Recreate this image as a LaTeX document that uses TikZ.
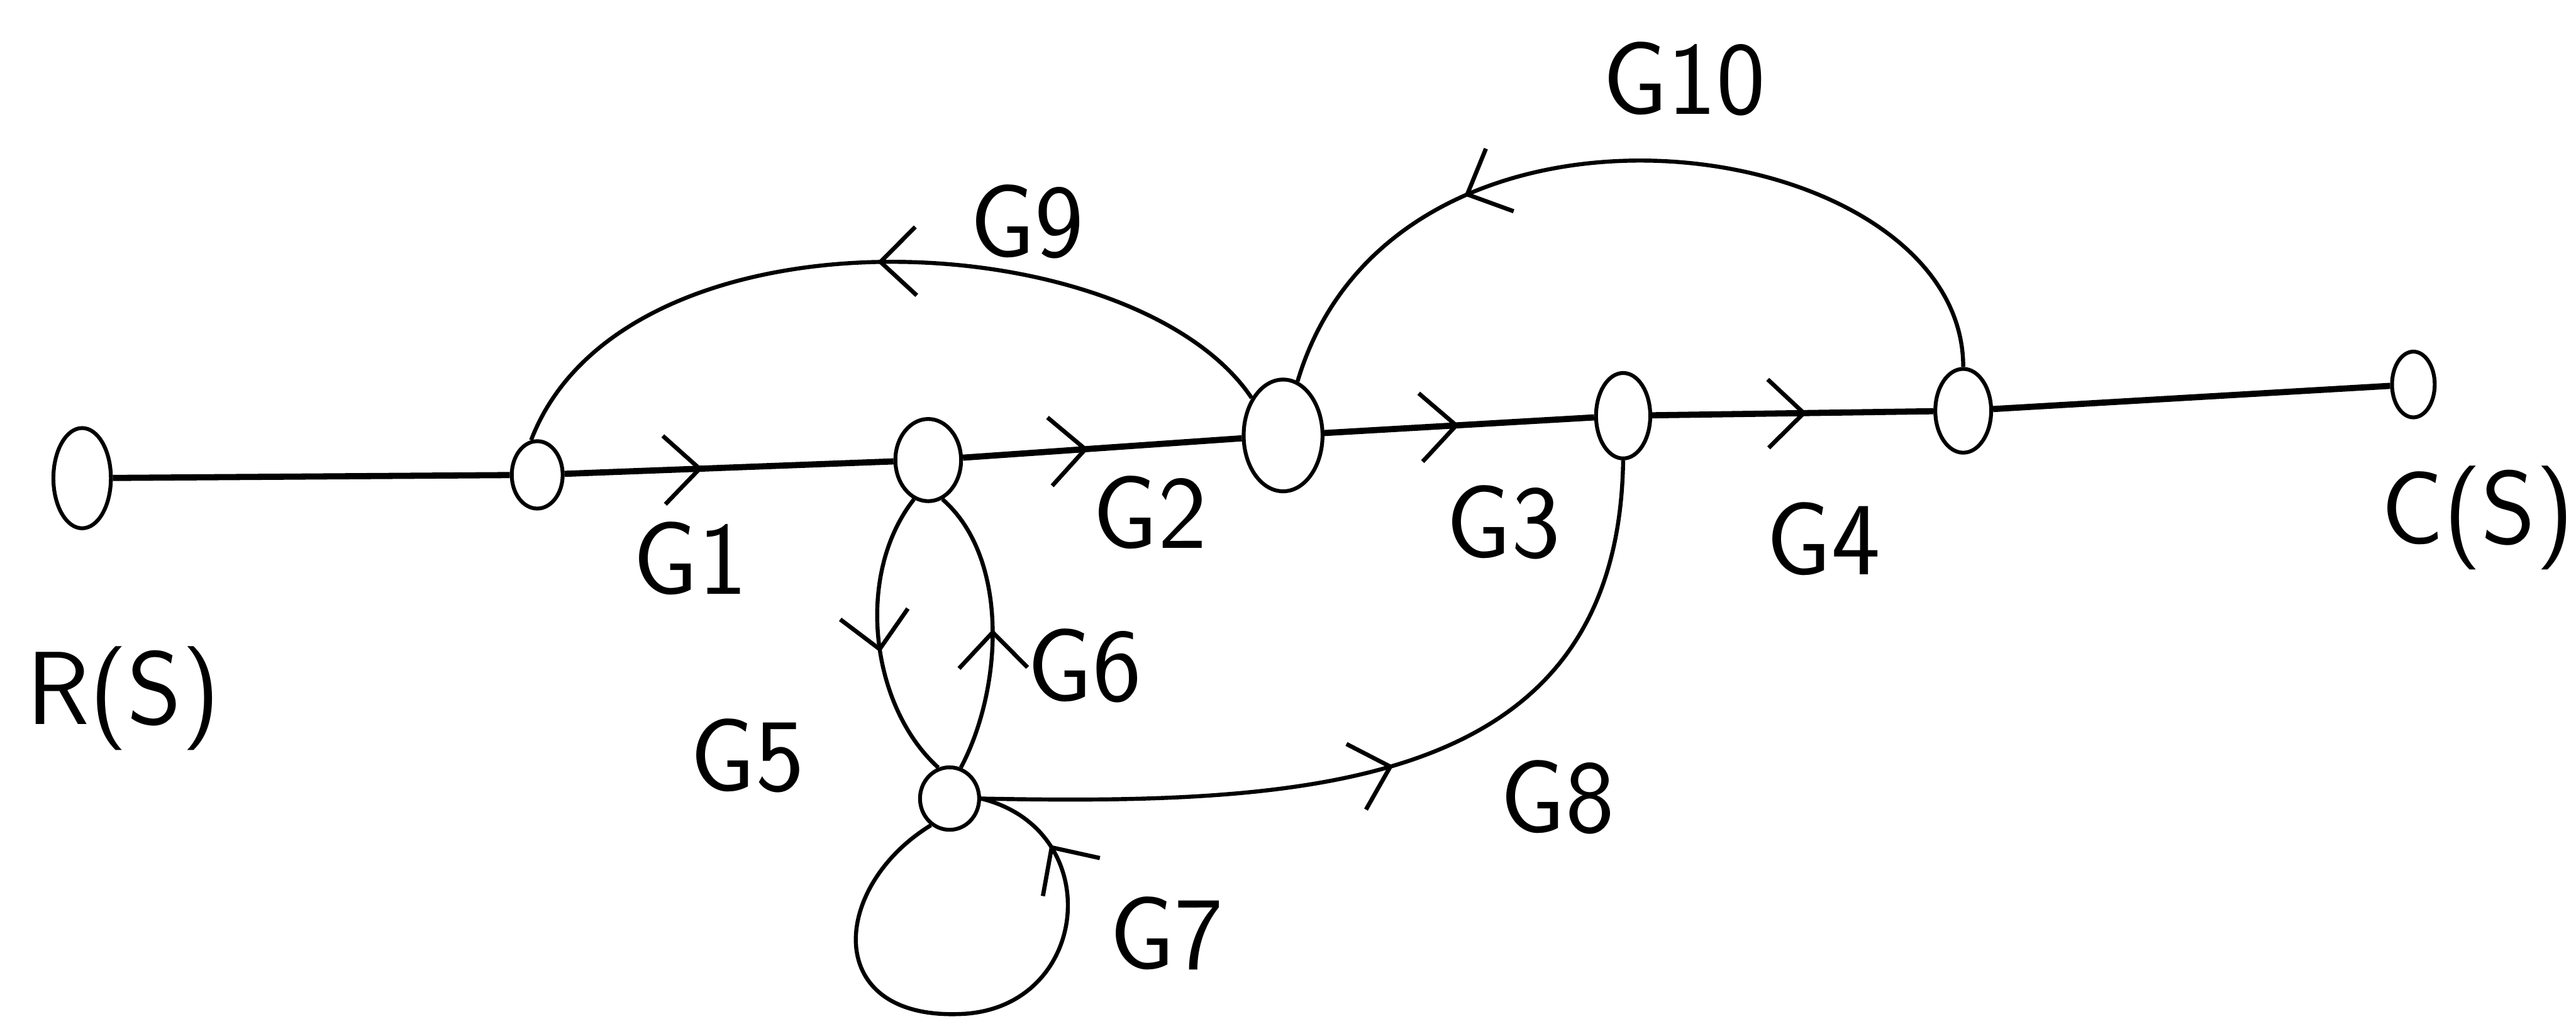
\documentclass[tikz,border=0pt]{standalone}
\usepackage{fontspec}
\usetikzlibrary{shapes.geometric,arrows.meta,decorations.markings}
\begin{document}
\begin{tikzpicture}[x=0.03cm,y=-0.03cm,
  sfg/.style={draw,ellipse,inner sep=0pt,line width=2pt},
  mainline/.style={line width=3.2pt},
  branch/.style={line width=2.1pt},
  lbl/.style={font=\sffamily\fontsize{54}{54}\selectfont,inner sep=0pt},
  midarrow/.style={postaction={decorate},decoration={markings,mark=at position #1 with {\arrow{Straight Barb[length=6.5mm,width=12.5mm,line width=2.2pt]}}}}
]
\useasboundingbox (0,0) rectangle (1568,620);
\fill[white] (0,0) rectangle (1568,620);

% nodes
\node[sfg,minimum width=1.05cm,minimum height=1.83cm] (R)  at (50,291) {};
\node[sfg,minimum width=0.93cm,minimum height=1.23cm] (n1) at (327,289) {};
\node[sfg,minimum width=1.2cm,minimum height=1.5cm]   (n2) at (565,280) {};
\node[sfg,minimum width=1.44cm,minimum height=2.04cm] (n3) at (781,265) {};
\node[sfg,minimum width=0.99cm,minimum height=1.56cm] (n4) at (988,253) {};
\node[sfg,minimum width=1.02cm,minimum height=1.53cm] (n5) at (1195,250) {};
\node[sfg,minimum width=0.78cm,minimum height=1.2cm]  (C)  at (1469,234) {};
\node[sfg,minimum width=1.08cm,minimum height=1.14cm] (n6) at (578,486) {};

% forward path
\draw[mainline] (R) -- (n1);
\draw[mainline,midarrow=0.42] (n1) -- (n2);
\draw[mainline,midarrow=0.45] (n2) -- (n3);
\draw[mainline,midarrow=0.5] (n3) -- (n4);
\draw[mainline,midarrow=0.55] (n4) -- (n5);
\draw[mainline] (n5) -- (C);

% feedback arcs
\draw[branch,midarrow=0.5] (n3.130) .. controls (690,135) and (380,120) .. (n1.100);
\draw[branch,midarrow=0.7] (n5.90) .. controls (1195,80) and (850,30) .. (n3.75);

% G5 / G6
\draw[branch,midarrow=0.55] (n2.250) .. controls (520,350) and (530,430) .. (n6.110);
\draw[branch,midarrow=0.5] (n6.70) .. controls (610,420) and (615,340) .. (n2.290);

% G8
\draw[branch,midarrow=0.5] (n6.east) .. controls (800,490) and (985,480) .. (n4.south);

% G7 self loop
\draw[branch,midarrow=0.86] (n6.235) .. controls (505,540) and (500,622) .. (587,617)
   .. controls (664,612) and (674,505) .. (n6.east);

% labels
\node[lbl] (tR)  at (75,425)   {R(S)};
\node[lbl] (t1)  at (420,340)  {G1};
\node[lbl] (t2)  at (700,312)  {G2};
\node[lbl] (t3)  at (915,318)  {G3};
\node[lbl] (t4)  at (1110,328) {G4};
\node[lbl] (tC)  at (1508,315) {C(S)};
\node[lbl] (t5)  at (455,460)  {G5};
\node[lbl] (t6)  at (660,405)  {G6};
\node[lbl] (t7)  at (710,568)  {G7};
\node[lbl] (t8)  at (948,485)  {G8};
\node[lbl] (t9)  at (625,135)  {G9};
\node[lbl] (t10) at (1025,48)  {G10};
\end{tikzpicture}
\end{document}
